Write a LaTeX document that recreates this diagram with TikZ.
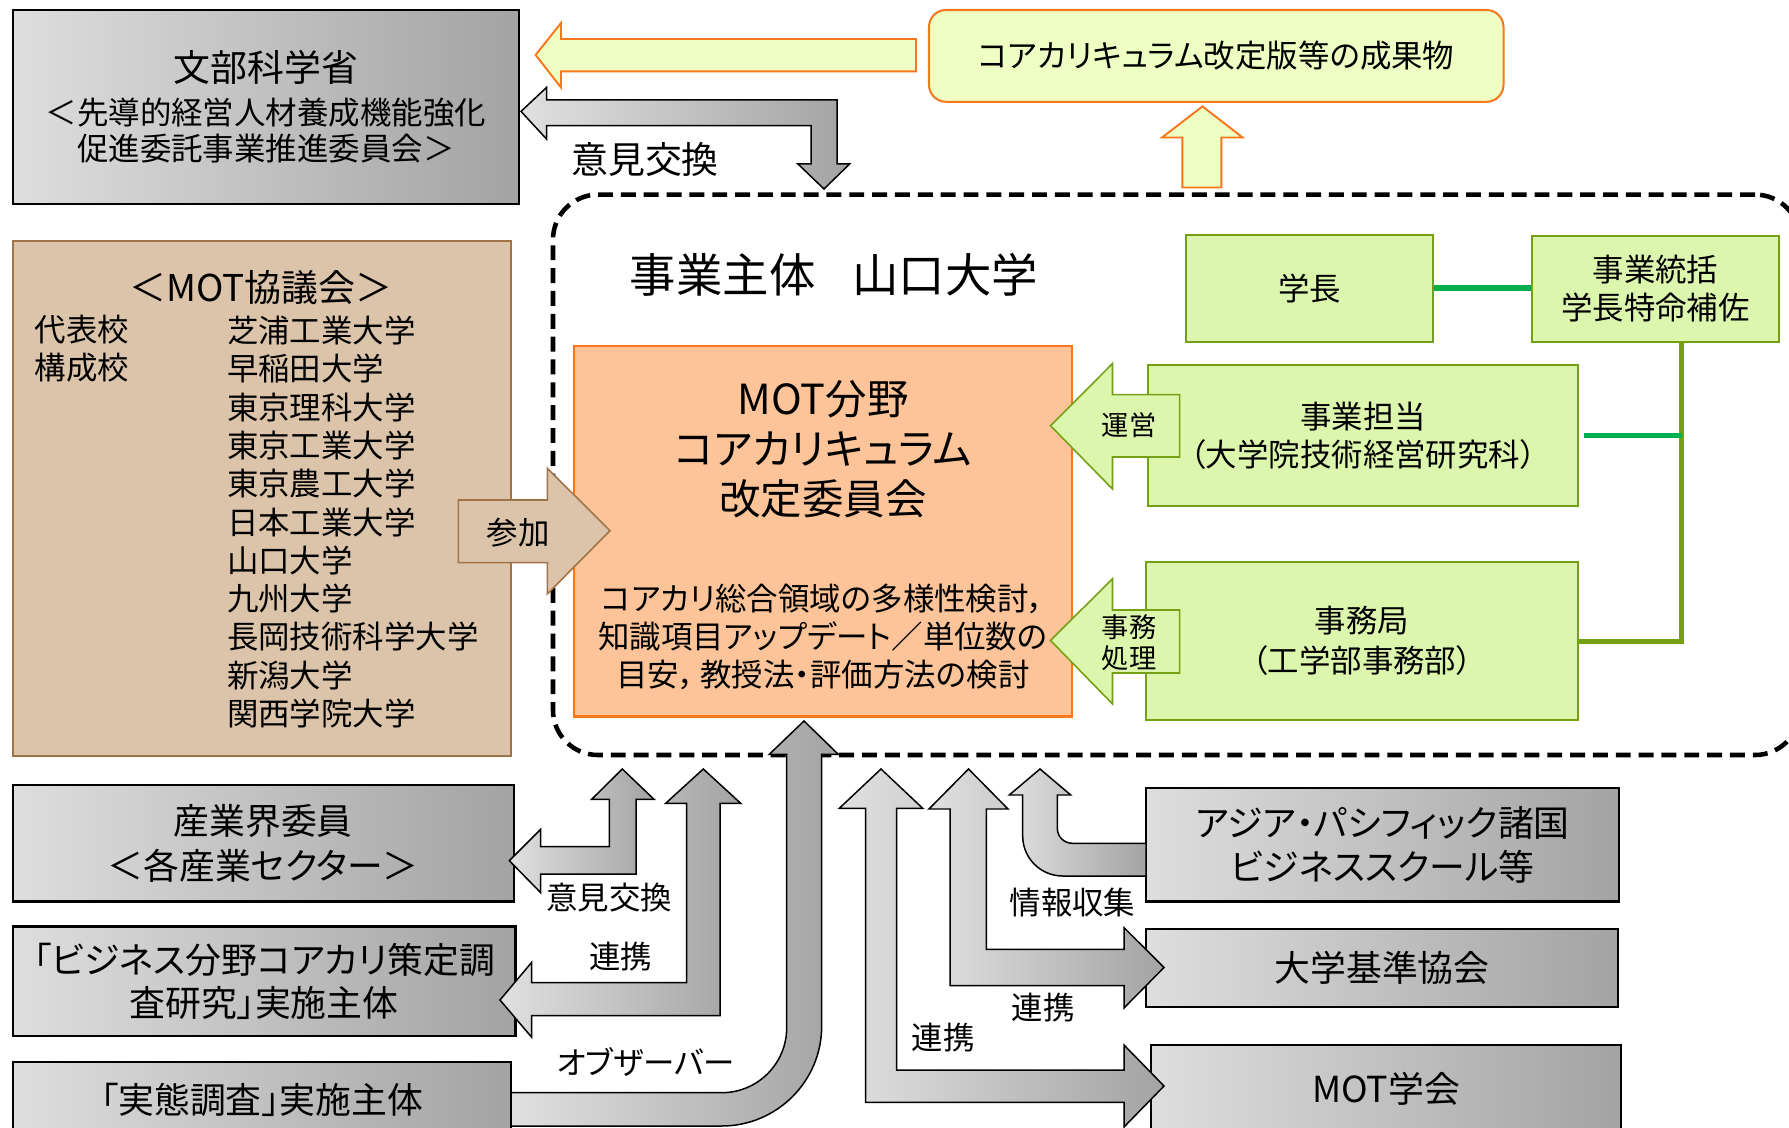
\documentclass[tikz,border=0pt]{standalone}
\usepackage{fontspec}
\setmainfont{Noto Sans CJK JP}[RawFeature=+palt]
\usepackage{tikz}
\usetikzlibrary{fit}

\definecolor{paleyellow}{RGB}{238,255,196}
\definecolor{orangeline}{RGB}{248,118,28}
\definecolor{palegreen}{RGB}{221,246,174}
\definecolor{olivegreen}{RGB}{118,160,20}
\definecolor{linegreen}{RGB}{0,176,80}
\definecolor{salmon}{RGB}{252,196,152}
\definecolor{tanfill}{RGB}{219,196,170}
\definecolor{tanline}{RGB}{160,116,72}

\tikzset{
  fmain/.style={font=\fontsize{17.9pt}{21.8pt}\selectfont},
  fmid/.style={font=\fontsize{20.4pt}{25.5pt}\selectfont},
  fhead/.style={font=\fontsize{21pt}{25pt}\selectfont},
  fbig/.style={font=\fontsize{23.6pt}{28.3pt}\selectfont},
  fhuge/.style={font=\fontsize{26.4pt}{30pt}\selectfont},
  ftiny/.style={font=\fontsize{15.5pt}{17.6pt}\selectfont},
  txt/.style={inner sep=0pt, align=center},
  box/.style={inner sep=0pt, line width=1.15pt},
  graybox/.style={box, draw=black, left color=black!13, right color=black!36},
  greenbox/.style={box, draw=olivegreen, fill=palegreen},
  resultbox/.style={box, draw=orangeline, fill=paleyellow, rounded corners=0.34cm},
  orangebox/.style={box, draw=orangeline, fill=salmon},
  tanbox/.style={box, draw=tanline, fill=tanfill},
  frame/.style={inner sep=0pt, draw=black, line width=2.6pt, dash pattern=on 8.5pt off 4.5pt, rounded corners=0.9cm},
  grayarrow/.style={draw=black, line width=0.85pt, left color=black!12, right color=black!36},
  yarrow/.style={draw=orangeline, line width=1.1pt, fill=paleyellow},
  greenarrow/.style={draw=olivegreen, line width=0.9pt, fill=palegreen},
  tanarrow/.style={draw=tanline, line width=0.9pt, fill=tanfill},
  gline/.style={draw=linegreen, line width=3.4pt},
  oline/.style={draw=olivegreen, line width=2.8pt}
}

\begin{document}
\begin{tikzpicture}[x=0.02cm, y=-0.02cm]
\useasboundingbox (0,0) rectangle (1789,1128);

% outside bodies
\node[graybox, fit={(12.6,10) (519,204)}] (mext) {};
\node[txt, font=\fontsize{17.9pt}{20.4pt}\selectfont] (mexttext) at (mext) {{\fontsize{21pt}{25pt}\selectfont 文部科学省}\\[4pt]＜先導的経営人材養成機能強化\\促進委託事業推進委員会＞};
\node[resultbox, fit={(929,10) (1503.5,101.8)}] (result) {};
\node[txt, fmain] (resulttext) at (result) {コアカリキュラム改定版等の成果物};
\node[tanbox, fit={(12.6,241) (511,755.6)}] (council) {};
\node[txt, fhead] (cntitle) at (261,287.5) {＜MOT協議会＞};
\node[txt, fmain, anchor=west, align=left] (cnrole) at (34.4,349) {代表校\\構成校};
\node[txt, fmain, anchor=west, align=left] (cnlist) at (226.7,522) {芝浦工業大学\\早稲田大学\\東京理科大学\\東京工業大学\\東京農工大学\\日本工業大学\\山口大学\\九州大学\\長岡技術科学大学\\新潟大学\\関西学院大学};
\node[graybox, fit={(12.6,785.3) (513.8,901.5)}] (ind) {};
\node[txt, fmid] (indtext) at (ind) {産業界委員\\＜各産業セクター＞};
\node[graybox, fit={(12.6,926.5) (515.5,1036)}] (biz) {};
\node[txt, font=\fontsize{20.4pt}{24.4pt}\selectfont] (biztext) at (biz) {「ビジネス分野コアカリ策定調\\査研究」実施主体};
\node[graybox, fit={(12.6,1061.6) (511,1137.6)}] (survey) {};
\node[txt, fmid] (surveytext) at (survey) {「実態調査」実施主体};
\node[graybox, fit={(1146,788.3) (1619.4,901.5)}] (asia) {};
\node[txt, fmid] (asiatext) at (asia) {アジア・パシフィック諸国\\ビジネススクール等};
\node[graybox, fit={(1146,928.7) (1618,1007.3)}] (jaba) {};
\node[txt, fmid] (jabatext) at (jaba) {大学基準協会};
\node[graybox, fit={(1151,1045) (1621,1132)}] (motsoc) {};
\node[txt, fmid] (motsoctext) at (motsoc) {MOT学会};

% Yamaguchi University
\node[frame, fit={(553,194.6) (1800,755)}] (host) {};
\node[txt, fhuge] (hosttitle) at (834,275) {事業主体\hspace{0.8em}山口大学};
\node[greenbox, fit={(1186.4,235) (1433,341.8)}] (pres) {};
\node[txt, fmain] (prestext) at (pres) {学長};
\node[greenbox, fit={(1532,235.7) (1779,341.8)}] (chief) {};
\node[txt, fmain] (chieftext) at (chief) {事業統括\\学長特命補佐};
\node[greenbox, fit={(1148,365) (1578,506)}] (mgr) {};
\node[txt, fmain] (mgrtext) at (mgr) {事業担当\\（大学院技術経営研究科）};
\node[greenbox, fit={(1146,561.8) (1578,720.4)}] (office) {};
\node[txt, font=\fontsize{17.9pt}{22.7pt}\selectfont] (officetext) at (office) {事務局\\（工学部事務部）};
\node[orangebox, fit={(574,346.4) (1072,716.5)}] (cmte) {};
\node[txt, fbig] (cmtitle) at (823,449) {MOT分野\\コアカリキュラム\\改定委員会};
\node[txt, fmain] (cmtask) at (823,637) {コアカリ総合領域の多様性検討，\\知識項目アップデート／単位数の\\目安，\,教授法・評価方法の検討};

\coordinate (trunk) at ([xshift=0.524cm]chief.south);
\draw[gline] (pres.east) -- (pres.east -| chief.west);
\draw[oline] (trunk) |- (office.east);
\draw[gline] ([xshift=0.09cm]mgr.east) -- (mgr.east -| trunk);

% block arrows
\draw[yarrow] (535.6,55) -- (561,23) -- (561,39) -- (916,39) -- (916,71.4) -- (561,71.4) -- (561,87.5) -- cycle;
\draw[yarrow] (1202.5,106.4) -- (1242.6,137.5) -- (1221.4,137.5) -- (1221.4,187.5) -- (1182.4,187.5) -- (1182.4,137.5) -- (1162,137.5) -- cycle;
\draw[grayarrow] (521,111.4) -- (546.5,87.5) -- (546.5,100) -- (837,100) -- (837,164) -- (849.6,164) -- (824,189) -- (798,164) -- (811,164) -- (811,125.7) -- (546.5,125.7) -- (546.5,139) -- cycle;
\draw[greenarrow] (1050.5,425.7) -- (1112.5,363.6) -- (1112.5,394.6) -- (1179.6,394.6) -- (1179.6,457) -- (1112.5,457) -- (1112.5,489) -- cycle;
\draw[greenarrow] (1050.5,640.4) -- (1112.5,578.8) -- (1112.5,610) -- (1179.6,610) -- (1179.6,673) -- (1112.5,673) -- (1112.5,704) -- cycle;
\draw[tanarrow] (458.3,500) -- (547.3,500) -- (547.3,468.3) -- (610,530.7) -- (547.3,594) -- (547.3,562.7) -- (458.3,562.7) -- cycle;
\draw[grayarrow] (622.3,769) -- (654,799.3) -- (636,799.3) -- (636,874) -- (540.7,874) -- (540.7,892.7) -- (509.3,860.7) -- (540.7,829.3) -- (540.7,846.7) -- (609.3,846.7) -- (609.3,799.3) -- (591.7,799.3) -- cycle;
\draw[grayarrow] (703.3,769) -- (740.7,803.3) -- (720,803.3) -- (720,1015.7) -- (531.7,1015.7) -- (531.7,1037.3) -- (500,1000) -- (531.7,962.3) -- (531.7,982.7) -- (686.7,982.7) -- (686.7,803.3) -- (665.7,803.3) -- cycle;
\draw[grayarrow] (804,721) -- (838.3,754.3) -- (821.7,754.3) -- (821.7,1026) .. controls (821.7,1081.2) and (776.9,1126) .. (721.7,1126) -- (511,1126) -- (511,1092.7) -- (721.7,1092.7) .. controls (757.6,1092.7) and (786.7,1063.6) .. (786.7,1027.7) -- (786.7,754.3) -- (769.3,754.3) -- cycle;
\draw[grayarrow] (881,769) -- (922.7,808.3) -- (896.7,808.3) -- (896.7,1070) -- (1124,1070) -- (1124,1045) -- (1164,1086) -- (1124,1127) -- (1124,1102.3) -- (865.7,1102.3) -- (865.7,808.3) -- (839.3,808.3) -- cycle;
\draw[grayarrow] (968.5,769) -- (1008,809) -- (986.3,809) -- (986.3,949.4) -- (1124,949.4) -- (1124,927.6) -- (1164,967.5) -- (1124,1008) -- (1124,985.6) -- (950.2,985.6) -- (950.2,809) -- (929,809) -- cycle;
\draw[grayarrow] (1040,769) -- (1070.7,795) -- (1057.3,795) -- (1057.3,828.3) .. controls (1057.3,836.6) and (1064,843.3) .. (1072.3,843.3) -- (1146,843.3) -- (1146,876) -- (1062.7,876) .. controls (1040.6,876) and (1022.7,858.1) .. (1022.7,836) -- (1022.7,795) -- (1009.3,795) -- cycle;

% arrow labels
\node[txt, fhead] (xchgtop) at (645,160) {意見交換};
\node[txt, ftiny] (run) at (1129,425) {運営};
\node[txt, ftiny] (clerk) at (1129,642.5) {事務\\処理};
\node[txt, fmain] (join) at (518.3,532.7) {参加};
\node[txt, fmain] (xchgind) at (609,898) {意見交換};
\node[txt, fmain] (coopbiz) at (620.7,957) {連携};
\node[txt, fmain] (observer) at (645.7,1061.7) {オブザーバー};
\node[txt, fmain] (coopmot) at (943,1038) {連携};
\node[txt, fmain] (coopjaba) at (1043,1007.3) {連携};
\node[txt, fmain] (infogather) at (1072.5,903) {情報収集};
\end{tikzpicture}
\end{document}
